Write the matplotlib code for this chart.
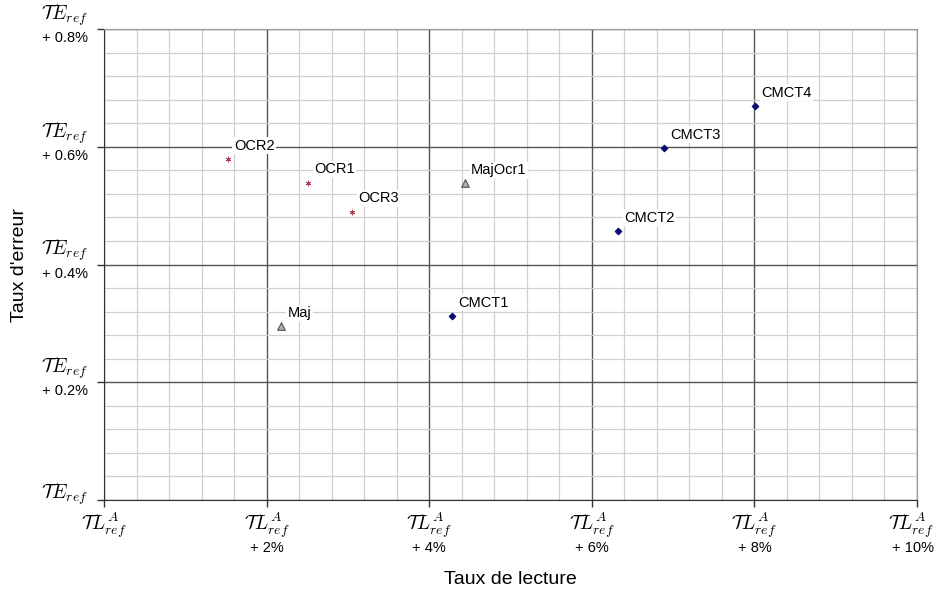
import numpy as np
import matplotlib
matplotlib.use("Agg")
import matplotlib.pyplot as plt
from matplotlib.ticker import MultipleLocator, NullFormatter
from matplotlib.transforms import offset_copy

plt.rcParams.update({
    "font.family":      ["Liberation Sans", "DejaVu Sans"],
    "mathtext.fontset": "cm",
})

# ── data (x = reading rate offset %, y = error rate offset %) ────────────────
OCR_NAMES  = ["OCR2", "OCR1", "OCR3"]
OCR_X      = [1.52, 2.51, 3.05]
OCR_Y      = [0.579, 0.539, 0.490]

MAJ_NAMES  = ["Maj", "MajOcr1"]
MAJ_X      = [2.18, 4.44]
MAJ_Y      = [0.295, 0.538]

CMCT_NAMES = ["CMCT1", "CMCT2", "CMCT3", "CMCT4"]
CMCT_X     = [4.28, 6.32, 6.89, 8.01]
CMCT_Y     = [0.313, 0.457, 0.598, 0.669]

X_TICKS  = [0, 2, 4, 6, 8, 10]
Y_TICKS  = [0, 0.2, 0.4, 0.6, 0.8]
X_MATH   = r"$\mathcal{T}L^A_{ref}$"
Y_MATH   = r"$\mathcal{T}E_{ref}$"
X_PCT    = ["", "+ 2%", "+ 4%", "+ 6%", "+ 8%", "+ 10%"]
Y_PCT    = ["", "+ 0.2%", "+ 0.4%", "+ 0.6%", "+ 0.8%"]

fig = plt.figure(figsize=(9.37, 5.97), dpi=100)
ax = fig.add_axes([104 / 937, 97 / 597, 813 / 937, 471 / 597])

ax.set_xlim(0, 10)
ax.set_ylim(0, 0.8)
ax.xaxis.set_minor_locator(MultipleLocator(0.4))
ax.yaxis.set_minor_locator(MultipleLocator(0.04))
ax.set_xticks(X_TICKS)
ax.set_yticks(Y_TICKS)
ax.xaxis.set_major_formatter(NullFormatter())
ax.yaxis.set_major_formatter(NullFormatter())
ax.tick_params(which="minor", length=0)
ax.tick_params(which="major", length=5, color="#333333", width=1)

ax.grid(True, which="minor", color="#d0d0d0", linewidth=0.9)
ax.grid(True, which="major", color="#555555", linewidth=1.0)
ax.set_axisbelow(True)
for s in ("left", "bottom"):
    ax.spines[s].set_color("#333333")
for s in ("top", "right"):
    ax.spines[s].set_color("#999999")

# two-line tick labels: big math symbol + small percentage underneath
# (the last x label is pulled inside the figure, right-aligned)
for i, (v, p) in enumerate(zip(X_TICKS, X_PCT)):
    last = i == len(X_TICKS) - 1
    dx = 17 if last else 0
    ha = "right" if last else "center"
    tx_m = offset_copy(ax.get_xaxis_transform(), fig, x=dx, y=-25, units="dots")
    tx_p = offset_copy(ax.get_xaxis_transform(), fig, x=dx, y=-48, units="dots")
    ax.text(v, 0, X_MATH, transform=tx_m, ha=ha, va="center", fontsize=14, clip_on=False)
    if p:
        ax.text(v, 0, p, transform=tx_p, ha=ha, va="center", fontsize=10.5, clip_on=False)

ty_m = offset_copy(ax.get_yaxis_transform(), fig, x=-16, y=14, units="dots")
ty_p = offset_copy(ax.get_yaxis_transform(), fig, x=-16, y=-9, units="dots")
ty_0 = offset_copy(ax.get_yaxis_transform(), fig, x=-16, y=6, units="dots")
for v, p in zip(Y_TICKS, Y_PCT):
    ax.text(0, v, Y_MATH, transform=ty_m if p else ty_0, ha="right", va="center",
            fontsize=14, clip_on=False)
    if p:
        ax.text(0, v, p, transform=ty_p, ha="right", va="center", fontsize=10.5, clip_on=False)

ax.scatter(OCR_X, OCR_Y, marker=(6, 2, 0), s=12, color="#a8404f", linewidths=0.7, zorder=3)
ax.scatter(MAJ_X, MAJ_Y, marker="^", s=30, facecolor="#b0b0b0", edgecolor="#505050",
           linewidths=0.8, zorder=3)
ax.scatter(CMCT_X, CMCT_Y, marker="D", s=10, color="#0a0a78", zorder=3)

for names, xs, ys in [(OCR_NAMES, OCR_X, OCR_Y), (MAJ_NAMES, MAJ_X, MAJ_Y),
                      (CMCT_NAMES, CMCT_X, CMCT_Y)]:
    for n, x, y in zip(names, xs, ys):
        ax.annotate(n, (x, y), xytext=(4.5, 9.5), textcoords="offset points",
                    ha="left", va="center", fontsize=10.5, zorder=4,
                    bbox=dict(boxstyle="square,pad=0.1", fc="white", ec="none"))

fig.text(510 / 937, 1 - 580 / 597, "Taux de lecture", ha="center", va="center", fontsize=14)
fig.text(20 / 937, 1 - 265 / 597, "Taux d'erreur", ha="center", va="center",
         rotation=90, fontsize=14)

fig.savefig("out.png", dpi=100)
